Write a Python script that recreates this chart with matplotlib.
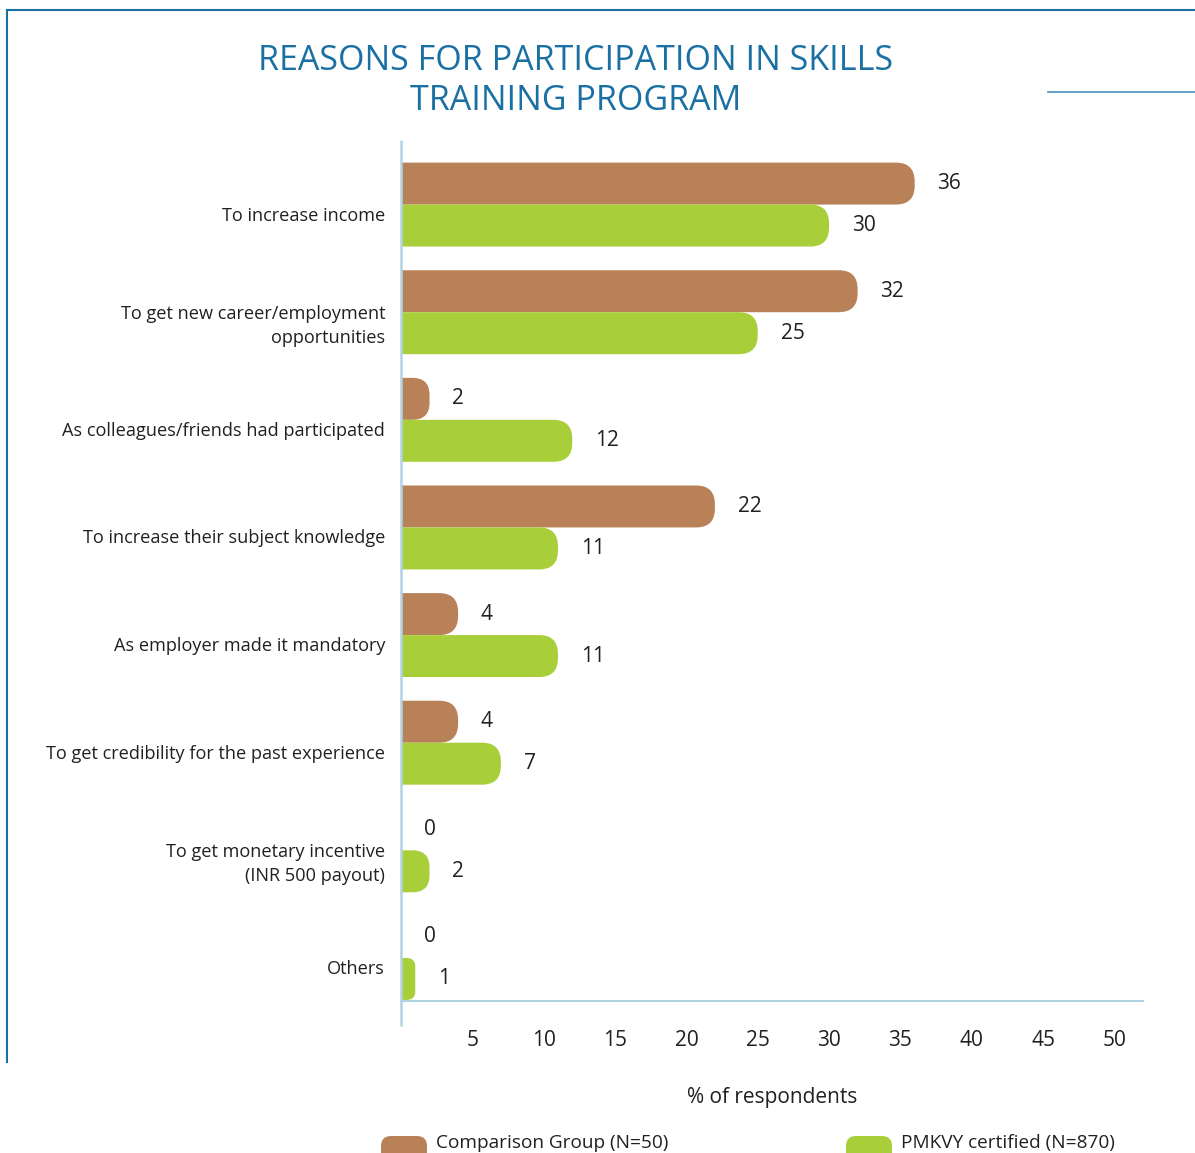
import matplotlib
matplotlib.use("Agg")
import numpy as np
import matplotlib.pyplot as plt
from matplotlib.patches import FancyBboxPatch
from matplotlib.lines import Line2D
from matplotlib import transforms

reasons = [
    "To increase income",
    "To get new career/employment\nopportunities",
    "As colleagues/friends had participated",
    "To increase their subject knowledge",
    "As employer made it mandatory",
    "To get credibility for the past experience",
    "To get monetary incentive\n(INR 500 payout)",
    "Others",
]
comparison = [36, 32, 2, 22, 4, 4, 0, 0]
pmkvy = [30, 25, 12, 11, 11, 7, 2, 1]
x_ticks = [5, 10, 15, 20, 25, 30, 35, 40, 45, 50]
series_names = ["Comparison Group (N=50)", "PMKVY certified (N=870)"]

BROWN = "#b88157"
GREEN = "#a8cf3a"
BLUE = "#1a70a3"
AXIS = "#b3d3e4"
INK = "#231f20"

plt.rcParams["font.family"] = ["Open Sans", "DejaVu Sans"]

W, H = 1195, 1153
fig = plt.figure(figsize=(W / 100, H / 100), dpi=100)
ax_box = [401 / W, 1 - 1001 / H, 742 / W, 861 / H]
ax = fig.add_axes(ax_box)

n = len(reasons)
y = np.arange(n)
xmax = 52
ax.set_xlim(0, xmax)
ax.set_ylim(n - 0.6, -0.6)
bar_h = 0.39

# pixels per data unit, so the bar ends come out circular
px_x = ax_box[2] * W / xmax
px_y = ax_box[3] * H / n


def rounded_bar(value, y0, color):
    if value <= 0:
        return
    r_px = min(0.45 * bar_h * px_y, 0.6 * value * px_x)
    r = r_px / px_x
    # start left of the axis so only the right end shows rounded
    box = FancyBboxPatch((-4, y0), value + 4, bar_h,
                         boxstyle=f"round,pad=0,rounding_size={r}",
                         mutation_aspect=px_x / px_y,
                         fc=color, ec="none", lw=0)
    ax.add_patch(box)


for i in range(n):
    rounded_bar(comparison[i], y[i] - bar_h, BROWN)
    rounded_bar(pmkvy[i], y[i], GREEN)
    ax.text(comparison[i] + 1.6, y[i] - bar_h / 2, str(comparison[i]),
            va="center", ha="left", fontsize=15, color=INK)
    ax.text(pmkvy[i] + 1.6, y[i] + bar_h / 2, str(pmkvy[i]),
            va="center", ha="left", fontsize=15, color=INK)

for s in ["top", "right", "left"]:
    ax.spines[s].set_visible(False)
ax.spines["bottom"].set_color(AXIS)
ax.spines["bottom"].set_linewidth(1.5)
ax.plot([0, 0], [1, -25 / 861], transform=ax.transAxes, clip_on=False,
        color=AXIS, lw=1.8, solid_capstyle="butt")

ax.set_xticks(x_ticks)
ax.tick_params(axis="x", length=0, pad=21, labelsize=15, labelcolor=INK)
ax.set_yticks(y, reasons)
ax.tick_params(axis="y", length=0, pad=11.5, labelsize=13.1, labelcolor=INK)
shift = transforms.ScaledTranslation(0, -0.09, fig.dpi_scale_trans)
for lab in ax.get_yticklabels():
    lab.set_transform(lab.get_transform() + shift)
    lab.set_linespacing(1.4)

ax.set_xlabel("% of respondents", fontsize=15, labelpad=26, color=INK)

fig.text(576 / W, 1 - 81 / H, "REASONS FOR PARTICIPATION IN SKILLS\nTRAINING PROGRAM",
         ha="center", va="center", fontsize=24.5, color=BLUE, linespacing=1.2)

# page frame lines
fig.add_artist(Line2D([7 / W, 1], [1 - 10 / H, 1 - 10 / H], color=BLUE, lw=1.5))
fig.add_artist(Line2D([7 / W, 7 / W], [1 - 10 / H, 1 - 1062 / H], color=BLUE, lw=1.5))
fig.add_artist(Line2D([1048 / W, 1], [1 - 92 / H, 1 - 92 / H], color="#4a8fbd", lw=1.2))

# legend along the bottom edge
for name, color, x0 in zip(series_names, [BROWN, GREEN], [381, 846]):
    fig.add_artist(FancyBboxPatch((x0 / W, 1 - 1175 / H), 46 / W, 39 / H,
                                  boxstyle=f"round,pad=0,rounding_size={10 / W}",
                                  mutation_aspect=W / H, transform=fig.transFigure,
                                  fc=color, ec="none"))
    fig.text((x0 + 55) / W, 5 / H, name, ha="left", va="baseline",
             fontsize=13.7, color=INK)

fig.savefig("out.png", dpi=100)
